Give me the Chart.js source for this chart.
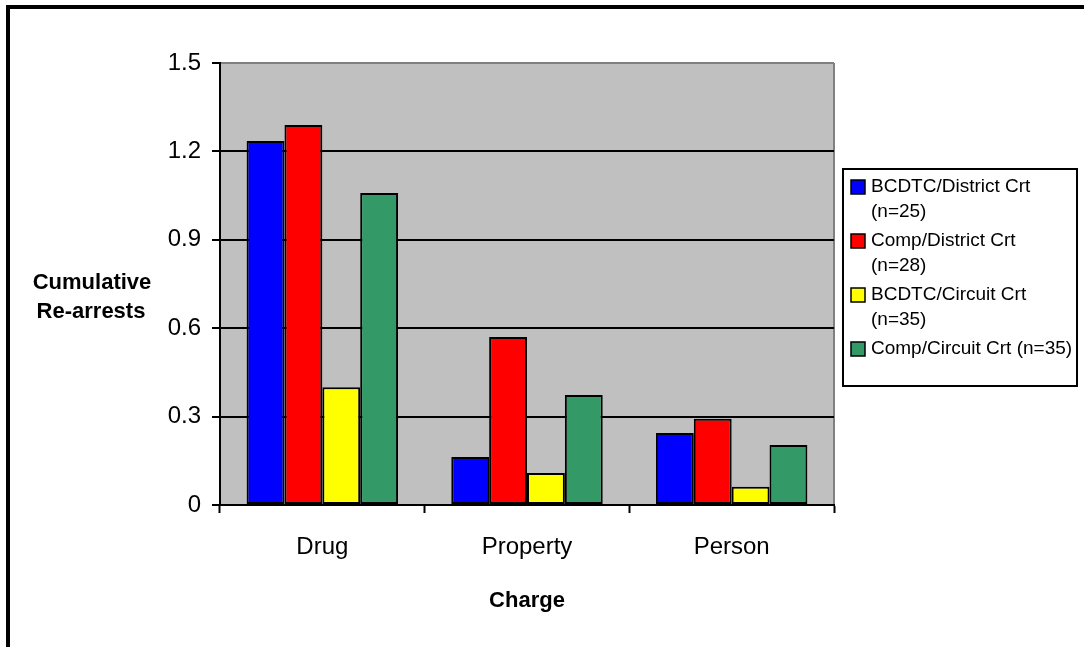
<!DOCTYPE html>
<html>
<head>
<meta charset="utf-8">
<script src="https://cdn.jsdelivr.net/npm/chart.js@4.4.1/dist/chart.umd.min.js"></script>
<style>
    html, body { margin: 0; padding: 0; background: #fff; overflow: hidden; }
    #wrap { position: relative; width: 1084px; height: 647px; }
    #frame {
        position: absolute; left: 6px; top: 5px; width: 2000px; height: 2000px;
        border-left: 4px solid #000; border-top: 4px solid #000; pointer-events: none;
    }
    canvas { position: absolute; left: 0; top: 0; }
</style>
</head>
<body>
<div id="wrap">
    <canvas id="rearrestChart" width="1084" height="647"></canvas>
    <div id="frame"></div>
</div>
<script>
// Data
const charges = ['Drug', 'Property', 'Person'];
const seriesLines = [
    ['BCDTC/District Crt', '(n=25)'],
    ['Comp/District Crt', '(n=28)'],
    ['BCDTC/Circuit Crt', '(n=35)'],
    ['Comp/Circuit Crt (n=35)']
];
const bcdtcDistrict = [1.235, 0.163, 0.244];
const compDistrict = [1.29, 0.57, 0.293];
const bcdtcCircuit = [0.40, 0.109, 0.062];
const compCircuit = [1.059, 0.373, 0.204];
const yTicks = [0, 0.3, 0.6, 0.9, 1.2, 1.5];
const seriesColors = ['#0000FF', '#FF0000', '#FFFF00', '#339966'];

const FONT = "'Liberation Sans', Arial, sans-serif";

// Gray plot area, gray right edge, custom axis titles and the boxed legend
const decorations = {
    id: 'decorations',
    beforeDraw(chart) {
        const { ctx, chartArea: a } = chart;
        ctx.save();
        ctx.fillStyle = '#C0C0C0';
        ctx.fillRect(a.left, a.top, a.right - a.left, a.bottom - a.top);
        ctx.strokeStyle = '#808080';
        ctx.lineWidth = 2;
        ctx.beginPath();
        ctx.moveTo(a.right, a.top);
        ctx.lineTo(a.right, a.bottom);
        ctx.stroke();
        ctx.restore();
    },
    afterDraw(chart) {
        const { ctx, chartArea: a } = chart;
        ctx.save();
        ctx.fillStyle = '#000';
        ctx.font = 'bold 22px ' + FONT;
        ctx.textAlign = 'center';
        ctx.textBaseline = 'alphabetic';
        ctx.fillText('Cumulative', 92, 289);
        ctx.fillText('Re-arrests', 91, 318);
        ctx.fillText('Charge', (a.left + a.right) / 2, 607);

        // legend
        ctx.strokeStyle = '#000';
        ctx.lineWidth = 2;
        ctx.strokeRect(843, 169, 234, 217);
        ctx.font = '19px ' + FONT;
        ctx.textAlign = 'left';
        ctx.textBaseline = 'middle';
        let y = 187;
        chart.data.datasets.forEach((ds, i) => {
            ctx.fillStyle = ds.backgroundColor;
            ctx.fillRect(851, y - 7, 14, 14);
            ctx.lineWidth = 1.5;
            ctx.strokeRect(851, y - 7, 14, 14);
            ctx.fillStyle = '#000';
            seriesLines[i].forEach((line, j) => {
                ctx.fillText(line, 871, y + j * 25);
            });
            y += 54;
        });
        ctx.restore();
    }
};

const datasets = [bcdtcDistrict, compDistrict, bcdtcCircuit, compCircuit].map((vals, i) => ({
    label: seriesLines[i].join(' '),
    data: vals,
    backgroundColor: seriesColors[i],
    borderColor: '#000',
    borderWidth: 2,
    borderSkipped: false,
    categoryPercentage: 0.74,
    barPercentage: 1.0
}));

new Chart(document.getElementById('rearrestChart'), {
    type: 'bar',
    data: { labels: charges, datasets: datasets },
    options: {
        responsive: false,
        animation: false,
        devicePixelRatio: 1,
        layout: { padding: { top: 63, right: 250, left: 0, bottom: 0 } },
        plugins: {
            legend: { display: false },
            tooltip: { enabled: false }
        },
        scales: {
            x: {
                offset: true,
                grid: {
                    offset: true,
                    drawOnChartArea: false,
                    drawTicks: true,
                    tickLength: 8,
                    tickColor: '#000',
                    tickWidth: 2
                },
                border: { color: '#000', width: 2 },
                ticks: {
                    color: '#000',
                    font: { family: FONT, size: 24 },
                    padding: 20,
                    maxRotation: 0
                },
                afterFit(scale) { scale.height = 142; }
            },
            y: {
                min: 0,
                max: 1.5,
                afterBuildTicks(scale) {
                    scale.ticks = yTicks.map(v => ({ value: v }));
                },
                grid: {
                    color: ctx => (ctx.tick && ctx.tick.value === 1.5 ? '#808080' : '#000'),
                    lineWidth: 2,
                    tickLength: 8,
                    tickColor: '#000',
                    tickWidth: 2
                },
                border: { color: '#000', width: 2 },
                ticks: {
                    color: '#000',
                    font: { family: FONT, size: 24 },
                    padding: 11,
                    callback: v => String(Number(v.toFixed(1)))
                },
                afterFit(scale) { scale.width = 220; }
            }
        }
    },
    plugins: [decorations]
});
</script>
</body>
</html>
